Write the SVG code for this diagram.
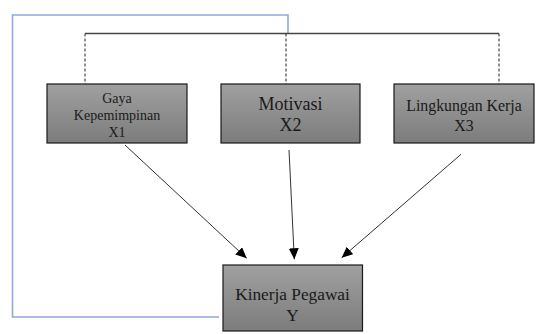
<svg xmlns="http://www.w3.org/2000/svg" width="545" height="334" viewBox="0 0 545 334">
<style>
.box{fill:url(#g);stroke:#1a1a1a;stroke-width:1.2}
.t{font-family:'Liberation Serif',serif;fill:#1a1a1a;text-anchor:middle}
.arr{stroke:#333;stroke-width:1;fill:none;marker-end:url(#ah)}
.dash{stroke:#222;stroke-width:1;stroke-dasharray:3,2;fill:none}
.blue{stroke:#8eaadb;stroke-width:1.6;fill:none}
</style>
<defs>
<linearGradient id="g" x1="0" y1="0" x2="0" y2="1">
<stop offset="0" stop-color="#a0a0a0"/>
<stop offset="1" stop-color="#7c7c7c"/>
</linearGradient>
<marker id="ah" markerUnits="userSpaceOnUse" markerWidth="12" markerHeight="10" refX="11" refY="5" orient="auto">
<path d="M0,0 L11,5 L0,10 Z" fill="#000"/>
</marker>
</defs>
<g id="connectors">
<path class="blue" d="M288,33.5 V15 H12.5 V317 H219"/>
<path d="M85,33.5 H499" stroke="#444" stroke-width="1.5" fill="none"/>
<path class="dash" d="M85,33.5 V84"/>
<path class="dash" d="M286,33.5 V84"/>
<path class="dash" d="M499,33.5 V84"/>
<path class="arr" d="M125,145 L246.7,258.3"/>
<path class="arr" d="M289,150 L294.3,259.3"/>
<path class="arr" d="M461,154.3 L341.7,257.7"/>
</g>
<g id="x1" font-family="Liberation Serif">
<rect class="box" x="47" y="84" width="140" height="59"/>
<text class="t" font-size="14" x="117" y="103">Gaya</text>
<text class="t" font-size="14" x="117" y="120">Kepemimpinan</text>
<text class="t" font-size="14" x="117" y="137">X1</text>
</g>
<g id="x2" font-family="Liberation Serif">
<rect class="box" x="221" y="84" width="139" height="59"/>
<text class="t" font-size="18" x="290.5" y="110">Motivasi</text>
<text class="t" font-size="18" x="290.5" y="130.5">X2</text>
</g>
<g id="x3" font-family="Liberation Serif">
<rect class="box" x="394" y="84" width="140" height="59"/>
<text class="t" font-size="15.8" x="464" y="110.5">Lingkungan Kerja</text>
<text class="t" font-size="15.8" x="464" y="130.5">X3</text>
</g>
<g id="y" font-family="Liberation Serif">
<rect class="box" x="223" y="265" width="139.5" height="66"/>
<text class="t" font-size="17.3" x="292.5" y="300">Kinerja Pegawai</text>
<text class="t" font-size="17.3" x="292.5" y="320.5">Y</text>
</g>
</svg>
